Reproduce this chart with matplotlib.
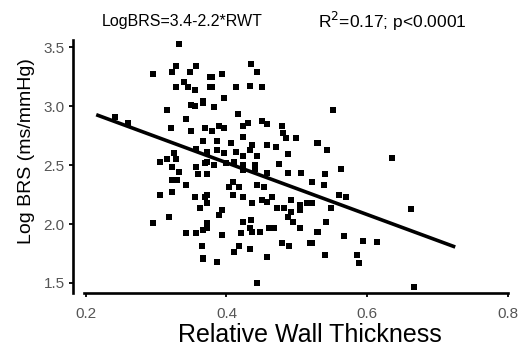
import matplotlib
matplotlib.use("Agg")
import matplotlib.pyplot as plt
import numpy as np

plt.rcParams["font.family"] = ["Liberation Sans", "DejaVu Sans"]

# relative wall thickness / log BRS
rwt = [
    0.333, 0.295, 0.329, 0.323, 0.348, 0.357, 0.328, 0.340, 0.345, 0.356,
    0.376, 0.376, 0.315, 0.349, 0.356, 0.366, 0.343, 0.321, 0.350, 0.369,
    0.366, 0.357, 0.326, 0.305, 0.316, 0.329, 0.322, 0.373, 0.241, 0.260,
    0.435, 0.444, 0.380, 0.394, 0.380, 0.414, 0.434, 0.450, 0.366, 0.383,
    0.397, 0.417, 0.431, 0.424, 0.450, 0.457, 0.479, 0.481, 0.485, 0.499,
    0.529, 0.423, 0.379, 0.390, 0.396, 0.386, 0.407, 0.437, 0.458, 0.471,
    0.487, 0.475, 0.372, 0.386, 0.397, 0.414, 0.423, 0.433, 0.443, 0.369,
    0.383, 0.400, 0.411, 0.423, 0.440, 0.552, 0.530, 0.543, 0.635, 0.563,
    0.333, 0.357, 0.359, 0.322, 0.330, 0.343, 0.306, 0.323, 0.355, 0.369,
    0.362, 0.295, 0.318, 0.343, 0.357, 0.372, 0.365, 0.367, 0.409, 0.404,
    0.418, 0.444, 0.454, 0.409, 0.423, 0.437, 0.450, 0.458, 0.464, 0.492,
    0.504, 0.515, 0.372, 0.373, 0.472, 0.482, 0.492, 0.504, 0.487, 0.494,
    0.504, 0.394, 0.390, 0.423, 0.435, 0.372, 0.366, 0.433, 0.437, 0.447,
    0.461, 0.468, 0.394, 0.421, 0.479, 0.489, 0.518, 0.529, 0.418, 0.411,
    0.433, 0.366, 0.387, 0.458, 0.443, 0.540, 0.522, 0.538, 0.560, 0.570,
    0.521, 0.549, 0.662, 0.542, 0.530, 0.567, 0.594, 0.614, 0.521, 0.540,
    0.586, 0.589, 0.667, 0.457, 0.440, 0.487, 0.506, 0.372, 0.423,
]
log_brs = [
    3.53, 3.27, 3.34, 3.29, 3.29, 3.34, 3.16, 3.20, 3.16, 3.14,
    3.25, 3.16, 2.97, 3.01, 3.00, 3.03, 2.89, 2.81, 2.79, 2.81,
    2.70, 2.64, 2.60, 2.53, 2.55, 2.55, 2.48, 2.53, 2.91, 2.86,
    3.36, 3.29, 3.25, 3.27, 3.16, 3.16, 3.17, 3.16, 3.04, 2.99,
    3.07, 2.93, 2.86, 2.83, 2.87, 2.85, 2.83, 2.77, 2.73, 2.73,
    2.69, 2.74, 2.79, 2.83, 2.81, 2.70, 2.69, 2.67, 2.67, 2.65,
    2.59, 2.51, 2.61, 2.63, 2.60, 2.61, 2.58, 2.63, 2.58, 2.52,
    2.50, 2.52, 2.53, 2.50, 2.50, 2.97, 2.69, 2.63, 2.56, 2.47,
    2.44, 2.48, 2.42, 2.37, 2.37, 2.33, 2.25, 2.27, 2.23, 2.23,
    2.14, 2.01, 2.06, 1.92, 1.92, 1.97, 1.81, 1.70, 2.36, 2.31,
    2.31, 2.33, 2.31, 2.25, 2.23, 2.18, 2.20, 2.19, 2.23, 2.20,
    2.16, 2.18, 2.25, 2.18, 2.14, 2.14, 2.10, 2.12, 2.06, 2.02,
    1.97, 2.12, 2.08, 2.02, 2.03, 2.01, 1.95, 1.97, 1.93, 1.93,
    1.97, 1.97, 1.91, 1.92, 1.84, 1.81, 1.84, 1.93, 1.81, 1.76,
    1.79, 1.71, 1.68, 1.72, 1.50, 2.42, 2.36, 2.33, 2.25, 2.23,
    2.18, 2.14, 2.13, 2.02, 1.93, 1.90, 1.86, 1.85, 1.84, 1.74,
    1.74, 1.67, 1.47, 2.43, 2.47, 2.43, 2.43, 2.42, 2.46,
]

# regression: LogBRS = 3.4 - 2.2*RWT
intercept, slope = 3.4, -2.2
fit_range = [0.215, 0.725]

xticks = [0.2, 0.4, 0.6, 0.8]
yticks = [1.5, 2.0, 2.5, 3.0, 3.5]

fig = plt.figure(figsize=(5.27, 3.47), dpi=100)
ax = fig.add_axes([0.1385, 0.1556, 0.8255, 0.729])

ax.scatter(rwt, log_brs, marker="s", s=16, color="black", linewidths=0, zorder=3)
fx = np.array(fit_range)
ax.plot(fx, intercept + slope * fx, color="black", lw=2.6, solid_capstyle="butt", zorder=4)

ax.set_xlim(0.182, 0.8)
ax.set_ylim(1.415, 3.56)
ax.set_xticks(xticks)
ax.set_xticklabels([f"{t:.1f}" for t in xticks])
ax.set_yticks(yticks)
ax.set_yticklabels([f"{t:.1f}" for t in yticks])

for s in ("top", "right"):
    ax.spines[s].set_visible(False)
ax.spines["left"].set_linewidth(1.9)
ax.spines["bottom"].set_linewidth(1.9)
ax.spines["bottom"].set_bounds(0.197, 0.8)
ax.tick_params(axis="both", length=3, width=1.3, labelsize=11, labelcolor="#555555")
ax.tick_params(axis="x", pad=7)
ax.tick_params(axis="y", pad=3)

ax.set_xlabel("Relative Wall Thickness", fontsize=18)
ax.xaxis.set_label_coords(0.545, -0.118)
ax.set_ylabel("Log BRS (ms/mmHg)", fontsize=14)
ax.yaxis.set_label_coords(-0.087, 0.56)

fig.text(0.194, 0.937, "LogBRS=3.4-2.2*RWT", fontsize=11.5, va="center", ha="left")
fig.text(0.603, 0.937, "R$^2$=0.17; p<0.0001", fontsize=12.5, va="center", ha="left")

fig.savefig("out.png", dpi=100)
